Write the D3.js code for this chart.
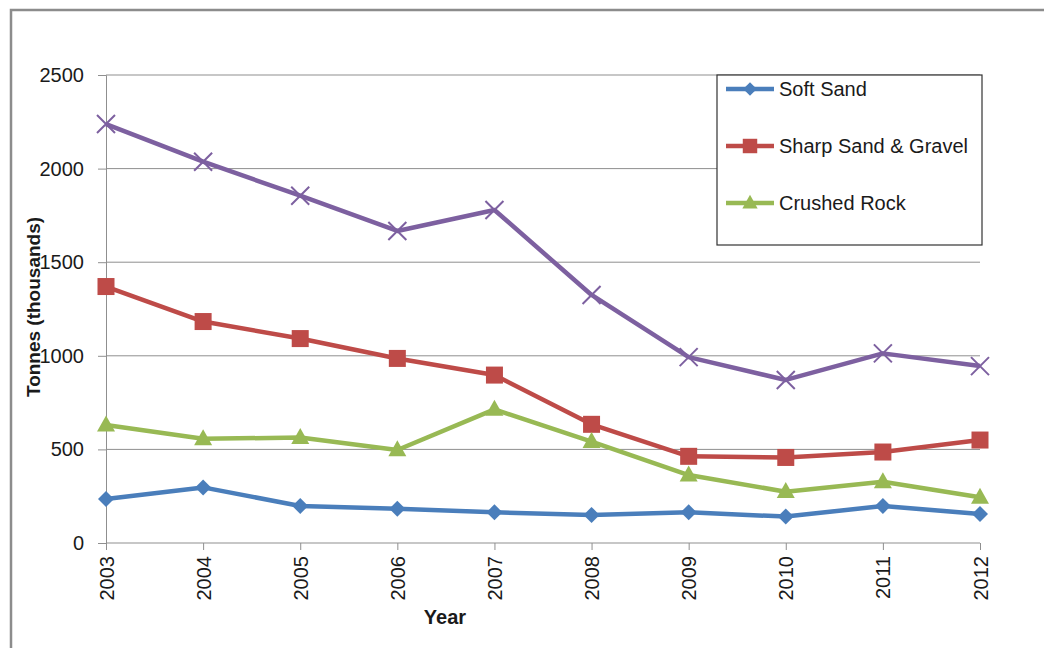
<!DOCTYPE html>
<html>
<head>
<meta charset="utf-8">
<script src="https://cdn.jsdelivr.net/npm/d3@7"></script>
<style>
  html, body { margin: 0; padding: 0; background: #fff; }
  svg { display: block; }
  text { font-family: "Liberation Sans", Arial, sans-serif; fill: #1a1a1a; }
</style>
</head>
<body>
<svg id="chart" width="1044" height="648"></svg>
<script>
// Aggregate sales by year, tonnes (thousands)
const years = [2003, 2004, 2005, 2006, 2007, 2008, 2009, 2010, 2011, 2012];
const softSand = [235, 297, 198, 183, 164, 150, 164, 141, 198, 155];
const sharpSandGravel = [1370, 1183, 1092, 986, 897, 634, 463, 457, 486, 550];
const crushedRock = [630, 557, 563, 497, 714, 541, 363, 274, 327, 244];
const total = [2238, 2037, 1855, 1667, 1779, 1325, 993, 871, 1013, 945];
const yTicks = [0, 500, 1000, 1500, 2000, 2500];

const series = [
  { name: "Soft Sand", values: softSand, color: "#4A7EBB", marker: "diamond", legend: true },
  { name: "Sharp Sand & Gravel", values: sharpSandGravel, color: "#BE4B48", marker: "square", legend: true },
  { name: "Crushed Rock", values: crushedRock, color: "#98B954", marker: "triangle", legend: true },
  { name: "Total", values: total, color: "#7D60A0", marker: "cross", legend: false }
];

const svg = d3.select("#chart");
const plot = { left: 106, right: 980, top: 75, bottom: 543 };
const fontSize = 20;

const x = d3.scalePoint().domain(years).range([plot.left, plot.right]);
const y = d3.scaleLinear().domain([0, 2500]).range([plot.bottom, plot.top]);

// Outer chart frame
svg.append("rect")
  .attr("x", 11).attr("y", 10).attr("width", 1060).attr("height", 660)
  .attr("fill", "#fff").attr("stroke", "#8c8c8c").attr("stroke-width", 2.5);

// Horizontal gridlines
svg.append("g")
  .selectAll("line")
  .data(yTicks.filter(d => d > 0))
  .join("line")
  .attr("x1", plot.left).attr("x2", plot.right)
  .attr("y1", d => y(d)).attr("y2", d => y(d))
  .attr("stroke", "#8f8f8f").attr("stroke-width", 1);

// Y axis
const yAxis = svg.append("g")
  .attr("transform", `translate(${plot.left},0)`)
  .call(d3.axisLeft(y).tickValues(yTicks).tickFormat(d3.format("d")).tickSize(8).tickPadding(14));
yAxis.select(".domain").attr("stroke", "#8f8f8f");
yAxis.selectAll(".tick line").attr("stroke", "#8f8f8f");
yAxis.selectAll(".tick text")
  .attr("font-size", fontSize).attr("font-family", "Liberation Sans, Arial, sans-serif")
  .attr("fill", "#1a1a1a");

// X axis with vertical year labels
const xAxis = svg.append("g")
  .attr("transform", `translate(0,${plot.bottom})`)
  .call(d3.axisBottom(x).tickSize(7).tickPadding(0));
xAxis.select(".domain").attr("stroke", "#8f8f8f").attr("d", `M${plot.left},0H${plot.right}`);
xAxis.selectAll(".tick line").attr("stroke", "#8f8f8f");
xAxis.selectAll(".tick text")
  .attr("font-size", fontSize).attr("font-family", "Liberation Sans, Arial, sans-serif")
  .attr("fill", "#1a1a1a")
  .attr("transform", "rotate(-90)")
  .attr("text-anchor", "end")
  .attr("x", -13).attr("y", 0).attr("dy", "0.35em");

// Axis titles
svg.append("text")
  .attr("transform", `translate(40,307) rotate(-90)`)
  .attr("text-anchor", "middle")
  .attr("font-size", 19).attr("font-weight", "bold")
  .text("Tonnes (thousands)");

svg.append("text")
  .attr("x", 445).attr("y", 624)
  .attr("text-anchor", "middle")
  .attr("font-size", fontSize).attr("font-weight", "bold")
  .text("Year");

// Marker shapes
function drawMarker(g, type, color, cx, cy, scale = 1) {
  if (type === "diamond") {
    const r = 8 * scale;
    g.append("path")
      .attr("d", `M${cx},${cy - r}L${cx + r},${cy}L${cx},${cy + r}L${cx - r},${cy}Z`)
      .attr("fill", color);
  } else if (type === "square") {
    const s = 17 * scale;
    g.append("rect")
      .attr("x", cx - s / 2).attr("y", cy - s / 2).attr("width", s).attr("height", s)
      .attr("fill", color);
  } else if (type === "triangle") {
    const w = 18 * scale, h = 16 * scale;
    g.append("path")
      .attr("d", `M${cx},${cy - h * 0.6}L${cx + w / 2},${cy + h * 0.4}L${cx - w / 2},${cy + h * 0.4}Z`)
      .attr("fill", color);
  } else if (type === "cross") {
    const r = 9 * scale;
    g.append("path")
      .attr("d", `M${cx - r},${cy - r}L${cx + r},${cy + r}M${cx - r},${cy + r}L${cx + r},${cy - r}`)
      .attr("stroke", color).attr("stroke-width", 2).attr("fill", "none");
  }
}

const line = d3.line()
  .x((d, i) => x(years[i]))
  .y(d => y(d));

// Series lines and markers
series.forEach(s => {
  const g = svg.append("g");
  g.append("path")
    .attr("d", line(s.values))
    .attr("fill", "none")
    .attr("stroke", s.color)
    .attr("stroke-width", 4.5)
    .attr("stroke-linejoin", "round");
  s.values.forEach((v, i) => drawMarker(g, s.marker, s.color, x(years[i]), y(v)));
});

// Legend
const legend = svg.append("g");
legend.append("rect")
  .attr("x", 717).attr("y", 75).attr("width", 265).attr("height", 170)
  .attr("fill", "#fff").attr("stroke", "#333").attr("stroke-width", 1.2);

series.filter(s => s.legend).forEach((s, i) => {
  const cy = 89 + i * 57;
  legend.append("line")
    .attr("x1", 726).attr("x2", 774).attr("y1", cy).attr("y2", cy)
    .attr("stroke", s.color).attr("stroke-width", 4.5);
  drawMarker(legend, s.marker, s.color, 750, cy, 0.85);
  legend.append("text")
    .attr("x", 779).attr("y", cy).attr("dy", "0.35em")
    .attr("font-size", fontSize)
    .text(s.name);
});
</script>
</body>
</html>
